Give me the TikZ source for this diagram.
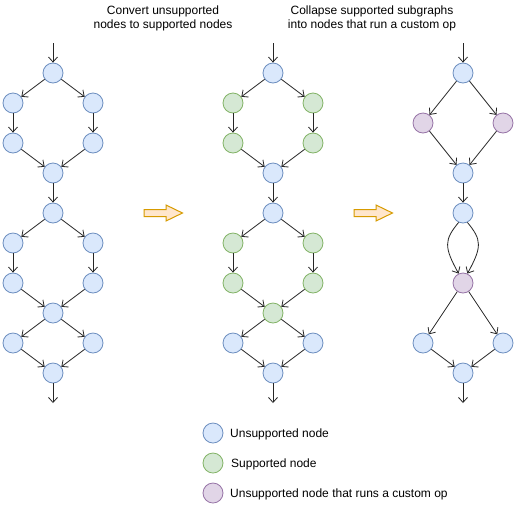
\documentclass[tikz,border=0pt]{standalone}
\usepackage{fontspec}
\setmainfont{Liberation Sans}
\usetikzlibrary{arrows.meta,shapes.arrows}
\definecolor{ufill}{HTML}{DAE8FC}\definecolor{udraw}{HTML}{6C8EBF}
\definecolor{sfill}{HTML}{D5E8D4}\definecolor{sdraw}{HTML}{82B366}
\definecolor{cfill}{HTML}{E1D5E7}\definecolor{cdraw}{HTML}{9673A6}
\definecolor{afill}{HTML}{FFE6CC}\definecolor{adraw}{HTML}{D79B00}
\begin{document}
\begin{tikzpicture}[x=1pt,y=-1pt,
  nd/.style={circle,minimum size=20pt,inner sep=0pt,line width=0.8pt},
  un/.style={nd,fill=ufill,draw=udraw},
  su/.style={nd,fill=sfill,draw=sdraw},
  cu/.style={nd,fill=cfill,draw=cdraw},
  ed/.style={draw=black!85,line width=0.8pt,-{Straight Barb[length=5pt,width=9pt]}},
  ttl/.style={font=\fontsize{12}{14}\selectfont,align=center},
  lg/.style={font=\fontsize{12}{14}\selectfont,anchor=west,inner sep=0pt},
  bigarrow/.style={fill=afill,draw=adraw,line width=1pt,line join=miter}]
\useasboundingbox (0,0) rectangle (521,512);
\fill[white] (0,0) rectangle (521,512);

% titles
\node[ttl] (t1) at (163,18) {Convert unsupported\\nodes to supported nodes};
\node[ttl] (t2) at (372,18) {Collapse supported subgraphs\\into nodes that run a custom op};

% ---------- column 1 ----------
\coordinate (a0) at (53,43);
\node[un] (a1) at (53,73) {};
\node[un] (a2l) at (13,103) {};
\node[un] (a2r) at (93,103) {};
\node[un] (a3l) at (13,143) {};
\node[un] (a3r) at (93,143) {};
\node[un] (a4) at (53,173) {};
\node[un] (a5) at (53,213) {};
\node[un] (a6l) at (13,243) {};
\node[un] (a6r) at (93,243) {};
\node[un] (a7l) at (13,283) {};
\node[un] (a7r) at (93,283) {};
\node[un] (a8) at (53,313) {};
\node[un] (a9l) at (13,343) {};
\node[un] (a9r) at (93,343) {};
\node[un] (a10) at (53,373) {};
\coordinate (a11) at (53,403);

% ---------- column 2 ----------
\coordinate (b0) at (273,43);
\node[un] (b1) at (273,73) {};
\node[su] (b2l) at (233,103) {};
\node[su] (b2r) at (313,103) {};
\node[su] (b3l) at (233,143) {};
\node[su] (b3r) at (313,143) {};
\node[un] (b4) at (273,173) {};
\node[un] (b5) at (273,213) {};
\node[su] (b6l) at (233,243) {};
\node[su] (b6r) at (313,243) {};
\node[su] (b7l) at (233,283) {};
\node[su] (b7r) at (313,283) {};
\node[su] (b8) at (273,313) {};
\node[un] (b9l) at (233,343) {};
\node[un] (b9r) at (313,343) {};
\node[un] (b10) at (273,373) {};
\coordinate (b11) at (273,403);

\foreach \p in {a,b} {
  \draw[ed] (\p0) -- (\p1);
  \draw[ed] (\p1) -- (\p2l); \draw[ed] (\p1) -- (\p2r);
  \draw[ed] (\p2l) -- (\p3l); \draw[ed] (\p2r) -- (\p3r);
  \draw[ed] (\p3l) -- (\p4); \draw[ed] (\p3r) -- (\p4);
  \draw[ed] (\p4) -- (\p5);
  \draw[ed] (\p5) -- (\p6l); \draw[ed] (\p5) -- (\p6r);
  \draw[ed] (\p6l) -- (\p7l); \draw[ed] (\p6r) -- (\p7r);
  \draw[ed] (\p7l) -- (\p8); \draw[ed] (\p7r) -- (\p8);
  \draw[ed] (\p8) -- (\p9l); \draw[ed] (\p8) -- (\p9r);
  \draw[ed] (\p9l) -- (\p10); \draw[ed] (\p9r) -- (\p10);
  \draw[ed] (\p10) -- (\p11);
}

% ---------- column 3 ----------
\coordinate (c0) at (463,43);
\node[un] (c1) at (463,73) {};
\node[cu] (c2l) at (423,123) {};
\node[cu] (c2r) at (503,123) {};
\node[un] (c3) at (463,173) {};
\node[un] (c4) at (463,213) {};
\node[cu] (c5) at (463,283) {};
\node[un] (c6l) at (423,343) {};
\node[un] (c6r) at (503,343) {};
\node[un] (c7) at (463,373) {};
\coordinate (c8) at (463,403);
\draw[ed] (c0) -- (c1);
\draw[ed] (c1) -- (c2l); \draw[ed] (c1) -- (c2r);
\draw[ed] (c2l) -- (c3); \draw[ed] (c2r) -- (c3);
\draw[ed] (c3) -- (c4);
\draw[ed] (c4.-115) .. controls (444,240) and (444,247) .. (c5.115);
\draw[ed] (c4.-65) .. controls (482,240) and (482,247) .. (c5.65);
\draw[ed] (c5) -- (c6l); \draw[ed] (c5) -- (c6r);
\draw[ed] (c6l) -- (c7); \draw[ed] (c6r) -- (c7);
\draw[ed] (c7) -- (c8);

% ---------- block arrows ----------
\draw[bigarrow] (144,209.5) -- (166,209.5) -- (166,205) -- (182.5,213) -- (166,221) -- (166,216.5) -- (144,216.5) -- cycle;
\draw[bigarrow] (354,209.5) -- (376,209.5) -- (376,205) -- (392.5,213) -- (376,221) -- (376,216.5) -- (354,216.5) -- cycle;

% ---------- legend ----------
\node[un] (l1) at (213,433) {};
\node[su] (l2) at (213,463) {};
\node[cu] (l3) at (213,493) {};
\node[lg] (l1t) at (230,434) {Unsupported node};
\node[lg] (l2t) at (231,464) {Supported node};
\node[lg] (l3t) at (230,494) {Unsupported node that runs a custom op};
\end{tikzpicture}
\end{document}
